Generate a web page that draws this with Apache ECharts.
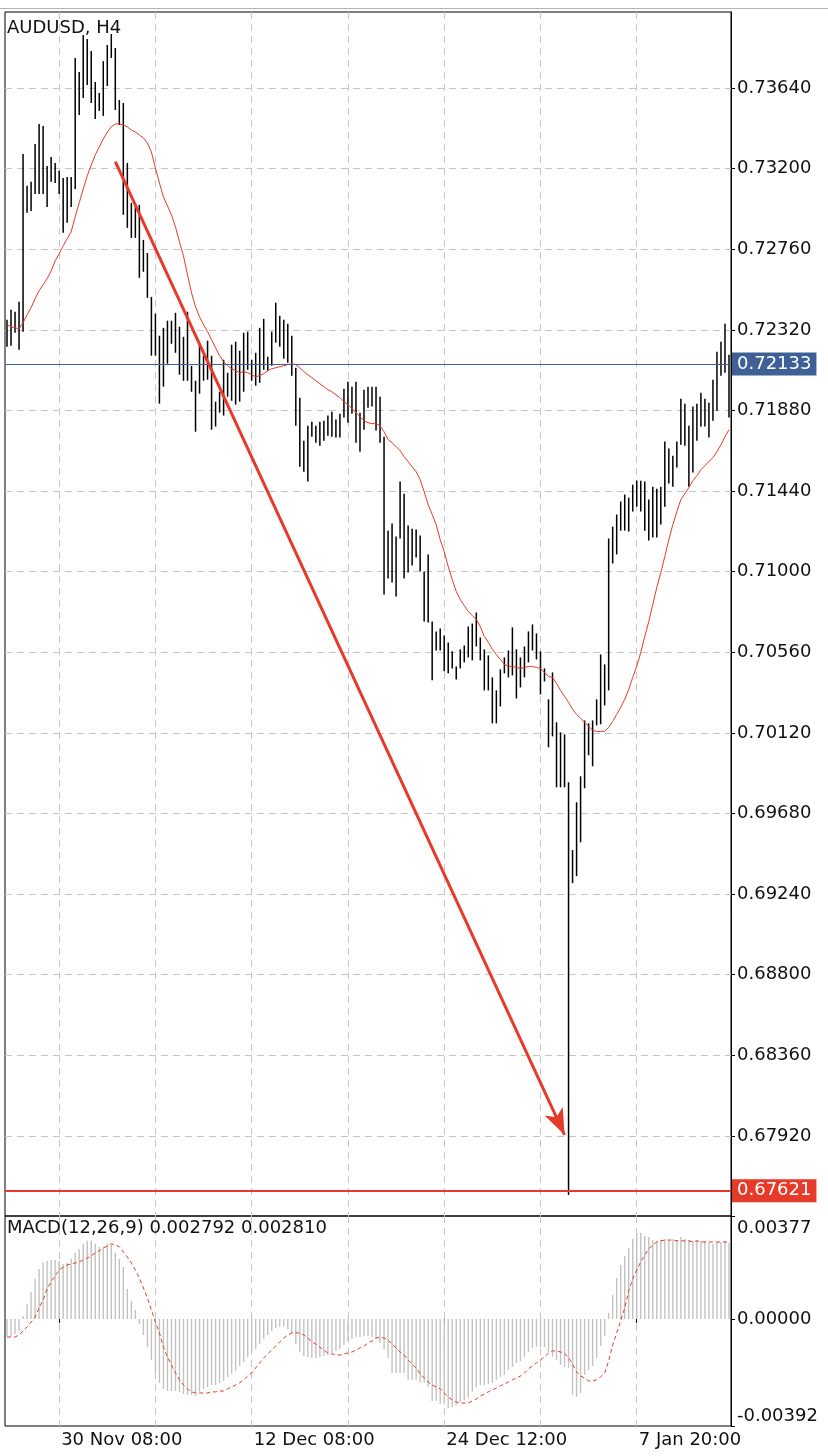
<!DOCTYPE html>
<html>
<head>
<meta charset="utf-8">
<title>AUDUSD, H4</title>
<script src="https://cdn.jsdelivr.net/npm/echarts@6/dist/echarts.min.js"></script>
<style>
  html, body { margin: 0; padding: 0; background: #fff; }
  #chart { width: 828px; height: 1456px; }
</style>
</head>
<body>
<div id="chart"></div>
<script>
// AUDUSD H4 bars (one value per bar, oldest first)
const symbolName = 'AUDUSD, H4';

const highs = [
  0.72375,0.72430,0.72419,0.72473,0.73280,0.73106,0.73128,0.73335,0.73444,0.73433,
  0.73215,0.73264,0.73231,0.73188,0.73149,0.73155,0.73155,0.73804,0.73727,0.73929,
  0.73907,0.73842,0.73673,0.73613,0.73787,0.73875,0.73935,0.73858,0.73575,0.73558,
  0.73231,0.73013,0.72991,0.73002,0.72811,0.72740,0.72500,0.72408,0.72288,0.72331,
  0.72370,0.72370,0.72413,0.72337,0.72282,0.72419,0.72124,0.72042,0.72244,0.72179,
  0.72261,0.72179,0.71928,0.71982,0.72157,0.72086,0.72239,0.72255,0.72206,0.72304,
  0.72310,0.72157,0.72195,0.72331,0.72380,0.72173,0.72310,0.72468,0.72397,0.72375,
  0.72353,0.72288,0.72113,0.71950,0.71715,0.71797,0.71819,0.71797,0.71819,0.71824,
  0.71852,0.71873,0.71830,0.71862,0.71999,0.72037,0.72010,0.72037,0.71868,0.71993,
  0.72010,0.72010,0.72010,0.71955,0.71737,0.71224,0.71263,0.71192,0.71492,0.71426,
  0.71252,0.71235,0.71230,0.71197,0.71001,0.71094,0.70728,0.70674,0.70690,0.70652,
  0.70614,0.70565,0.70483,0.70576,0.70597,0.70701,0.70717,0.70777,0.70641,0.70576,
  0.70543,0.70423,0.70352,0.70467,0.70532,0.70570,0.70696,0.70576,0.70532,0.70592,
  0.70674,0.70712,0.70663,0.70565,0.70472,0.70303,0.70450,0.70178,0.70123,0.70112,
  0.69850,0.69480,0.69741,0.69883,0.70188,0.70172,0.70188,0.70303,0.70548,0.70494,
  0.71181,0.71246,0.71312,0.71383,0.71421,0.71404,0.71475,0.71497,0.71497,0.71492,
  0.71394,0.71464,0.71453,0.71464,0.71710,0.71672,0.71633,0.71710,0.71944,0.71917,
  0.71797,0.71901,0.71917,0.71977,0.71944,0.71922,0.72048,0.72201,0.72255,0.72353,
  0.72184
];

const lows = [
  0.72228,0.72233,0.72304,0.72211,0.72310,0.72959,0.72969,0.73062,0.73062,0.73062,
  0.72991,0.73128,0.73122,0.73062,0.72850,0.72904,0.72991,0.73089,0.73493,0.73586,
  0.73657,0.73558,0.73471,0.73515,0.73488,0.73651,0.73804,0.73520,0.73438,0.72948,
  0.72877,0.72822,0.72822,0.72604,0.72637,0.72495,0.72179,0.72179,0.71917,0.72010,
  0.72135,0.72244,0.72195,0.72075,0.72042,0.72042,0.71982,0.71764,0.71972,0.72042,
  0.72048,0.71775,0.71792,0.71868,0.71852,0.71955,0.71933,0.71912,0.71928,0.71982,
  0.72102,0.72042,0.72015,0.72031,0.72102,0.72097,0.72124,0.72250,0.72228,0.72162,
  0.72141,0.72070,0.71797,0.71573,0.71546,0.71492,0.71737,0.71704,0.71688,0.71715,
  0.71742,0.71737,0.71732,0.71732,0.71841,0.71813,0.71862,0.71704,0.71655,0.71775,
  0.71895,0.71901,0.71770,0.71704,0.70876,0.70963,0.70941,0.70865,0.71181,0.70963,
  0.70995,0.71034,0.71077,0.71001,0.70728,0.70723,0.70407,0.70570,0.70570,0.70456,
  0.70445,0.70472,0.70412,0.70472,0.70505,0.70532,0.70516,0.70592,0.70516,0.70352,
  0.70352,0.70172,0.70172,0.70265,0.70445,0.70423,0.70434,0.70308,0.70368,0.70423,
  0.70505,0.70570,0.70521,0.70330,0.70401,0.70041,0.70101,0.69823,0.69823,0.69823,
  0.67598,0.69300,0.69338,0.69523,0.69818,0.69998,0.69938,0.70161,0.70167,0.70270,
  0.70352,0.71045,0.71094,0.71224,0.71224,0.71219,0.71328,0.71355,0.71328,0.71224,
  0.71170,0.71186,0.71186,0.71257,0.71355,0.71481,0.71464,0.71568,0.71693,0.71688,
  0.71464,0.71541,0.71715,0.71792,0.71792,0.71732,0.71824,0.71879,0.72070,0.72086,
  0.71841
];

// red moving average
const maValues = [
  0.72348,0.72337,0.72331,0.72326,0.72359,0.72402,0.72441,0.72490,0.72533,0.72566,
  0.72599,0.72642,0.72697,0.72735,0.72779,0.72817,0.72855,0.72937,0.73013,0.73089,
  0.73160,0.73220,0.73275,0.73318,0.73362,0.73400,0.73428,0.73444,0.73444,0.73438,
  0.73428,0.73411,0.73400,0.73384,0.73368,0.73340,0.73291,0.73204,0.73122,0.73046,
  0.72997,0.72948,0.72882,0.72800,0.72724,0.72620,0.72522,0.72446,0.72391,0.72348,
  0.72310,0.72266,0.72222,0.72179,0.72146,0.72124,0.72108,0.72097,0.72086,0.72092,
  0.72086,0.72075,0.72064,0.72070,0.72081,0.72097,0.72108,0.72113,0.72119,0.72124,
  0.72130,0.72135,0.72130,0.72113,0.72092,0.72075,0.72059,0.72042,0.72026,0.72010,
  0.71993,0.71982,0.71966,0.71950,0.71928,0.71912,0.71890,0.71868,0.71846,0.71824,
  0.71813,0.71808,0.71808,0.71797,0.71764,0.71721,0.71704,0.71683,0.71661,0.71628,
  0.71601,0.71573,0.71546,0.71503,0.71437,0.71366,0.71312,0.71257,0.71175,0.71110,
  0.71028,0.70957,0.70892,0.70848,0.70815,0.70783,0.70761,0.70739,0.70701,0.70646,
  0.70614,0.70576,0.70548,0.70521,0.70494,0.70483,0.70483,0.70477,0.70472,0.70477,
  0.70483,0.70483,0.70477,0.70472,0.70450,0.70428,0.70423,0.70390,0.70352,0.70319,
  0.70287,0.70248,0.70221,0.70199,0.70178,0.70156,0.70134,0.70128,0.70128,0.70128,
  0.70150,0.70183,0.70221,0.70259,0.70303,0.70357,0.70423,0.70483,0.70559,0.70646,
  0.70728,0.70821,0.70914,0.70995,0.71083,0.71175,0.71257,0.71328,0.71394,0.71426,
  0.71459,0.71497,0.71524,0.71557,0.71579,0.71601,0.71623,0.71655,0.71693,0.71737,
  0.71775
];

// MACD(12,26,9): main histogram and signal line
const macdValues = [
  -0.00062,-0.00062,-0.00055,-0.00044,0.00011,0.00055,0.00099,0.00147,0.00183,0.00209,
  0.00212,0.00216,0.00216,0.00212,0.00201,0.00205,0.00220,0.00242,0.00256,0.00275,
  0.00286,0.00286,0.00275,0.00264,0.00264,0.00275,0.00271,0.00242,0.00220,0.00190,
  0.00110,0.00066,0.00033,-0.00018,-0.00059,-0.00103,-0.00150,-0.00198,-0.00234,-0.00256,
  -0.00264,-0.00264,-0.00264,-0.00267,-0.00275,-0.00278,-0.00278,-0.00282,-0.00267,-0.00256,
  -0.00249,-0.00242,-0.00242,-0.00234,-0.00227,-0.00212,-0.00201,-0.00190,-0.00172,-0.00158,
  -0.00139,-0.00121,-0.00110,-0.00092,-0.00073,-0.00059,-0.00044,-0.00033,-0.00029,-0.00029,
  -0.00037,-0.00055,-0.00092,-0.00121,-0.00136,-0.00139,-0.00143,-0.00143,-0.00139,-0.00136,
  -0.00132,-0.00125,-0.00117,-0.00110,-0.00095,-0.00081,-0.00073,-0.00066,-0.00066,-0.00062,
  -0.00062,-0.00066,-0.00073,-0.00088,-0.00110,-0.00143,-0.00198,-0.00198,-0.00198,-0.00198,
  -0.00223,-0.00223,-0.00223,-0.00234,-0.00234,-0.00249,-0.00300,-0.00300,-0.00311,-0.00311,
  -0.00326,-0.00322,-0.00315,-0.00304,-0.00297,-0.00289,-0.00267,-0.00249,-0.00242,-0.00242,
  -0.00238,-0.00234,-0.00223,-0.00212,-0.00205,-0.00187,-0.00176,-0.00161,-0.00154,-0.00139,
  -0.00121,-0.00106,-0.00103,-0.00103,-0.00103,-0.00121,-0.00139,-0.00150,-0.00168,-0.00176,
  -0.00179,-0.00278,-0.00286,-0.00271,-0.00205,-0.00187,-0.00172,-0.00143,-0.00099,-0.00062,
  0.00022,0.00088,0.00150,0.00198,0.00231,0.00260,0.00293,0.00315,0.00315,0.00304,
  0.00300,0.00289,0.00286,0.00289,0.00293,0.00289,0.00293,0.00289,0.00300,0.00293,
  0.00289,0.00286,0.00289,0.00286,0.00286,0.00278,0.00275,0.00282,0.00282,0.00286,
  0.00279
];

const signalValues = [
  -0.00066,-0.00066,-0.00066,-0.00059,-0.00044,-0.00029,-0.00011,0.00007,0.00040,0.00070,
  0.00110,0.00136,0.00158,0.00179,0.00190,0.00198,0.00201,0.00205,0.00209,0.00216,
  0.00223,0.00231,0.00242,0.00249,0.00260,0.00267,0.00275,0.00271,0.00264,0.00245,
  0.00227,0.00205,0.00179,0.00150,0.00114,0.00077,0.00033,-0.00011,-0.00051,-0.00103,
  -0.00139,-0.00168,-0.00198,-0.00223,-0.00242,-0.00256,-0.00267,-0.00271,-0.00271,-0.00271,
  -0.00271,-0.00267,-0.00267,-0.00264,-0.00264,-0.00256,-0.00249,-0.00242,-0.00234,-0.00223,
  -0.00209,-0.00198,-0.00179,-0.00161,-0.00143,-0.00128,-0.00114,-0.00099,-0.00084,-0.00070,
  -0.00059,-0.00051,-0.00051,-0.00051,-0.00059,-0.00070,-0.00084,-0.00092,-0.00103,-0.00114,
  -0.00125,-0.00128,-0.00132,-0.00132,-0.00128,-0.00125,-0.00121,-0.00114,-0.00106,-0.00099,
  -0.00088,-0.00081,-0.00070,-0.00066,-0.00070,-0.00077,-0.00092,-0.00106,-0.00121,-0.00132,
  -0.00150,-0.00165,-0.00179,-0.00201,-0.00216,-0.00231,-0.00242,-0.00249,-0.00256,-0.00271,
  -0.00286,-0.00297,-0.00304,-0.00308,-0.00308,-0.00308,-0.00300,-0.00293,-0.00282,-0.00275,
  -0.00267,-0.00260,-0.00253,-0.00245,-0.00238,-0.00231,-0.00223,-0.00216,-0.00209,-0.00198,
  -0.00183,-0.00172,-0.00161,-0.00150,-0.00139,-0.00125,-0.00117,-0.00117,-0.00121,-0.00125,
  -0.00143,-0.00165,-0.00194,-0.00209,-0.00216,-0.00227,-0.00227,-0.00223,-0.00212,-0.00198,
  -0.00154,-0.00095,-0.00051,-0.00007,0.00040,0.00103,0.00147,0.00179,0.00209,0.00234,
  0.00256,0.00271,0.00282,0.00286,0.00289,0.00289,0.00289,0.00286,0.00286,0.00286,
  0.00286,0.00282,0.00286,0.00282,0.00282,0.00282,0.00282,0.00282,0.00282,0.00282,
  0.00281
];

const priceTicks = [0.67920, 0.68360, 0.68800, 0.69240, 0.69680, 0.70120, 0.70560,
  0.71000, 0.71440, 0.71880, 0.72320, 0.72760, 0.73200, 0.73640];
const macdTicks = [-0.00392, 0, 0.00377];
const timeLabels = { 13: '30 Nov 08:00', 61: '12 Dec 08:00', 109: '24 Dec 12:00', 157: '7 Jan 20:00' };

const lastPrice = 0.72133;
const lowLevel = 0.67621;
const arrowStart = [27, 0.73238];
const arrowEnd = [139, 0.67926];
const macdLast = 0.002792;
const signalLast = 0.002810;

const FONT = 'DejaVu Sans';
const RED = '#e63a2a';
const BLUE = '#3f6096';
const categories = highs.map((h, i) => i);
const gridLineAt = (i) => (i - 13) % 24 === 0;
const labelAt = (i) => timeLabels[i] !== undefined;
const dash = { type: [7, 5], color: '#c6c6c6', width: 1 };

const chart = echarts.init(document.getElementById('chart'));
chart.setOption({
  animation: false,
  backgroundColor: '#fff',
  title: [
    { text: symbolName, left: 7, top: 19, padding: 0,
      textStyle: { fontFamily: FONT, fontSize: 18, fontWeight: 'normal', color: '#111' } },
    { text: 'MACD(12,26,9) ' + macdLast.toFixed(6) + ' ' + signalLast.toFixed(6), left: 7, top: 1219, padding: 0,
      textStyle: { fontFamily: FONT, fontSize: 18, fontWeight: 'normal', color: '#111' } }
  ],
  graphic: [
    { type: 'line', shape: { x1: 0, y1: 8.5, x2: 828, y2: 8.5 }, style: { stroke: '#b4b4b4', lineWidth: 1 } }
  ],
  grid: [
    { left: 5, top: 12, width: 726, height: 1204, show: true, borderColor: '#000', borderWidth: 1 },
    { left: 5, top: 1216, width: 726, height: 210, show: true, borderColor: '#000', borderWidth: 1 }
  ],
  xAxis: [
    { type: 'category', gridIndex: 0, data: categories, boundaryGap: true,
      axisLine: { show: false }, axisTick: { show: false }, axisLabel: { show: false },
      splitLine: { show: true, interval: gridLineAt, alignWithLabel: true, lineStyle: dash } },
    { type: 'category', gridIndex: 1, data: categories, boundaryGap: true,
      axisLine: { show: false },
      axisTick: { show: true, interval: labelAt, alignWithLabel: true, length: 4, lineStyle: { color: '#000' } },
      axisLabel: { interval: labelAt, formatter: (v, i) => timeLabels[i] || '', align: 'left', padding: [0, 0, 0, 2],
        margin: 5, fontFamily: FONT, fontSize: 18, color: '#111' },
      splitLine: { show: true, interval: gridLineAt, alignWithLabel: true, lineStyle: dash } }
  ],
  yAxis: [
    { type: 'value', gridIndex: 0, position: 'right', min: 0.67483, max: 0.74055,
      axisLine: { show: true, lineStyle: { color: '#000', width: 1 } },
      axisTick: { show: true, length: 4, customValues: priceTicks, lineStyle: { color: '#000' } },
      axisLabel: { customValues: priceTicks, formatter: (v) => v.toFixed(5), margin: 6,
        fontFamily: FONT, fontSize: 18, color: '#111' },
      splitLine: { show: true, lineStyle: dash } },
    { type: 'value', gridIndex: 1, position: 'right', min: -0.00392, max: 0.00377,
      axisLine: { show: true, lineStyle: { color: '#000', width: 1 } },
      axisTick: { show: true, length: 4, customValues: macdTicks, lineStyle: { color: '#000' } },
      axisLabel: { customValues: macdTicks, formatter: (v) => v.toFixed(5), margin: 6,
        verticalAlignMaxLabel: 'top', verticalAlignMinLabel: 'bottom', padding: [3, 0, 1, 0],
        fontFamily: FONT, fontSize: 18, color: '#111' },
      splitLine: { show: false } }
  ],
  series: [
    {
      name: 'bars', type: 'custom', xAxisIndex: 0, yAxisIndex: 0, z: 2,
      data: highs.map((h, i) => [i, h, lows[i]]),
      encode: { x: 0, y: [1, 2] },
      renderItem: (params, api) => {
        const top = api.coord([api.value(0), api.value(1)]);
        const bottom = api.coord([api.value(0), api.value(2)]);
        return { type: 'line', shape: { x1: top[0], y1: top[1], x2: bottom[0], y2: bottom[1] },
          style: { stroke: '#000', lineWidth: 1.5 } };
      }
    },
    {
      name: 'MA', type: 'line', xAxisIndex: 0, yAxisIndex: 0, z: 3,
      data: maValues, symbol: 'none', lineStyle: { color: RED, width: 1 },
      markLine: {
        silent: true, symbol: 'none', animation: false, precision: 5,
        data: [
          { yAxis: lastPrice, lineStyle: { color: BLUE, width: 1, type: 'solid' },
            label: { show: true, position: 'end', distance: 1, formatter: (p) => Number(p.value).toFixed(5),
              color: '#fff', backgroundColor: BLUE, padding: [3, 5, 2, 5], fontFamily: FONT, fontSize: 18 } },
          { yAxis: lowLevel, lineStyle: { color: RED, width: 2, type: 'solid' },
            label: { show: true, position: 'end', distance: 1, formatter: (p) => Number(p.value).toFixed(5),
              color: '#fff', backgroundColor: RED, padding: [3, 5, 2, 5], fontFamily: FONT, fontSize: 18 } },
          [
            { coord: arrowStart, symbol: 'none', lineStyle: { color: RED, width: 3, type: 'solid' }, label: { show: false } },
            { coord: arrowEnd, symbol: 'arrow', symbolSize: [15, 26] }
          ]
        ]
      }
    },
    {
      name: 'MACD', type: 'bar', xAxisIndex: 1, yAxisIndex: 1, barWidth: 1.4,
      data: macdValues, itemStyle: { color: '#c2c2c2' }, silent: true
    },
    {
      name: 'Signal', type: 'line', xAxisIndex: 1, yAxisIndex: 1, z: 3,
      data: signalValues, symbol: 'none', lineStyle: { color: RED, width: 1, type: [4, 3] }
    }
  ]
});
</script>
</body>
</html>
